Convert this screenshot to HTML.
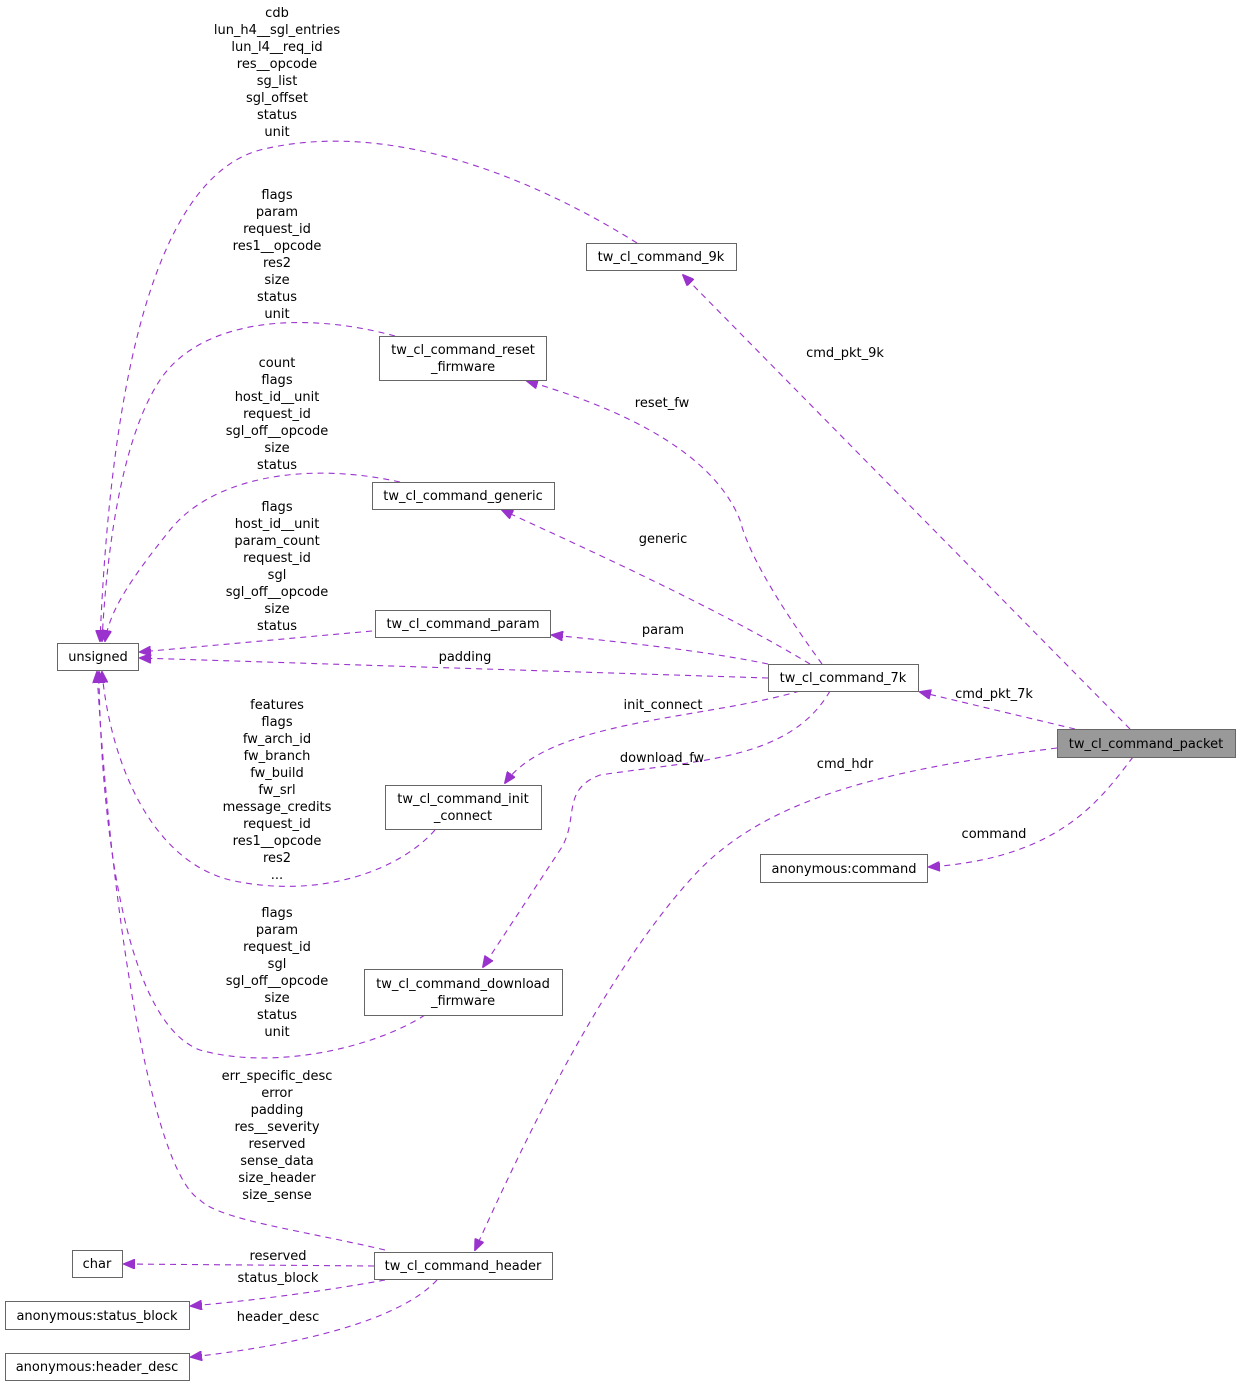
<!DOCTYPE html>
<html><head><meta charset="utf-8"><style>
html,body{margin:0;padding:0;background:#fff;}
svg{display:block;}
text{font-family:"DejaVu Sans","Liberation Sans",sans-serif;font-size:13px;fill:#000;}
.b{fill:#fff;stroke:#666;stroke-width:1;}
.e{fill:none;stroke:#9a32cd;stroke-width:1.1;stroke-dasharray:6,5;}
</style></head><body>
<svg width="1240" height="1387" viewBox="0 0 1240 1387" xmlns="http://www.w3.org/2000/svg">
<defs><marker id="a" markerWidth="12" markerHeight="10" refX="11" refY="5" orient="auto" markerUnits="userSpaceOnUse"><path d="M0,0 L12,5 L0,10 z" fill="#9a32cd" stroke="#9a32cd"/></marker></defs>
<g>
<path class="e" marker-end="url(#a)" d="M1130,729 L860,455 L683,275"/>
<path class="e" marker-end="url(#a)" d="M1075,729 L920,692"/>
<path class="e" marker-end="url(#a)" d="M1133,757 C1100,800 1060,858 929,867"/>
<path class="e" marker-end="url(#a)" d="M1057,748 C880,770 760,800 690,880 C600,980 520,1150 475,1250"/>
<path class="e" marker-end="url(#a)" d="M822,664 C790,620 750,560 740,520 C720,470 660,420 527,381"/>
<path class="e" marker-end="url(#a)" d="M810,664 C720,610 600,555 502,510"/>
<path class="e" marker-end="url(#a)" d="M768,664 C700,650 620,642 552,635"/>
<path class="e" marker-end="url(#a)" d="M768,678 L140,658"/>
<path class="e" marker-end="url(#a)" d="M800,691 C700,720 550,720 505,783"/>
<path class="e" marker-end="url(#a)" d="M830,691 C790,760 700,760 600,775 C560,790 580,820 560,850 L483,967"/>
<path class="e" marker-end="url(#a)" d="M637,243 C520,170 380,120 260,150 C150,180 110,400 100,641"/>
<path class="e" marker-end="url(#a)" d="M395,336 C300,310 200,320 160,380 C120,440 106,560 102,641"/>
<path class="e" marker-end="url(#a)" d="M400,482 C300,460 210,480 170,530 C130,580 110,610 105,641"/>
<path class="e" marker-end="url(#a)" d="M372,631 L140,652"/>
<path class="e" marker-end="url(#a)" d="M435,830 C400,870 320,900 230,880 C150,860 110,760 102,672"/>
<path class="e" marker-end="url(#a)" d="M425,1015 C370,1050 270,1070 200,1050 C120,1020 100,800 99,672"/>
<path class="e" marker-end="url(#a)" d="M385,1250 C300,1230 220,1220 200,1200 C150,1170 110,900 97,672"/>
<path class="e" marker-end="url(#a)" d="M374,1266 L124,1264"/>
<path class="e" marker-end="url(#a)" d="M385,1280 C330,1290 260,1300 191,1306"/>
<path class="e" marker-end="url(#a)" d="M437,1280 C400,1320 300,1345 191,1357"/>
</g>
<g>
<rect x="1057.5" y="729.5" width="178" height="28" fill="#999" stroke="#666"/><text x="1146" y="748" text-anchor="middle">tw_cl_command_packet</text>
<rect class="b" x="768.5" y="664.5" width="150" height="27"/><text x="843" y="682" text-anchor="middle">tw_cl_command_7k</text>
<rect class="b" x="586.5" y="243.5" width="150" height="27"/><text x="661" y="261" text-anchor="middle">tw_cl_command_9k</text>
<rect class="b" x="379.5" y="336.5" width="167" height="44"/><text x="463" y="354" text-anchor="middle">tw_cl_command_reset</text><text x="463" y="371" text-anchor="middle">_firmware</text>
<rect class="b" x="372.5" y="482.5" width="182" height="27"/><text x="463" y="500" text-anchor="middle">tw_cl_command_generic</text>
<rect class="b" x="375.5" y="610.5" width="175" height="27"/><text x="463" y="628" text-anchor="middle">tw_cl_command_param</text>
<rect class="b" x="57.5" y="643.5" width="81" height="27"/><text x="98" y="661" text-anchor="middle">unsigned</text>
<rect class="b" x="385.5" y="785.5" width="156" height="44"/><text x="463" y="803" text-anchor="middle">tw_cl_command_init</text><text x="463" y="820" text-anchor="middle">_connect</text>
<rect class="b" x="364.5" y="969.5" width="198" height="46"/><text x="463" y="988" text-anchor="middle">tw_cl_command_download</text><text x="463" y="1005" text-anchor="middle">_firmware</text>
<rect class="b" x="374.5" y="1252.5" width="178" height="27"/><text x="463" y="1270" text-anchor="middle">tw_cl_command_header</text>
<rect class="b" x="72.5" y="1250.5" width="50" height="27"/><text x="97" y="1268" text-anchor="middle">char</text>
<rect class="b" x="5.5" y="1301.5" width="184" height="28"/><text x="97" y="1320" text-anchor="middle">anonymous:status_block</text>
<rect class="b" x="5.5" y="1353.5" width="184" height="27"/><text x="97" y="1371" text-anchor="middle">anonymous:header_desc</text>
<rect class="b" x="760.5" y="854.5" width="167" height="28"/><text x="844" y="873" text-anchor="middle">anonymous:command</text>
</g>
<g text-anchor="middle">
<text x="845" y="357">cmd_pkt_9k</text>
<text x="994" y="698">cmd_pkt_7k</text>
<text x="845" y="768">cmd_hdr</text>
<text x="994" y="838">command</text>
<text x="662" y="407">reset_fw</text>
<text x="663" y="543">generic</text>
<text x="663" y="634">param</text>
<text x="465" y="661">padding</text>
<text x="663" y="709">init_connect</text>
<text x="662" y="762">download_fw</text>
<text x="278" y="1260">reserved</text>
<text x="278" y="1282">status_block</text>
<text x="278" y="1321">header_desc</text>
<text x="277" y="17">cdb</text><text x="277" y="34">lun_h4__sgl_entries</text><text x="277" y="51">lun_l4__req_id</text><text x="277" y="68">res__opcode</text><text x="277" y="85">sg_list</text><text x="277" y="102">sgl_offset</text><text x="277" y="119">status</text><text x="277" y="136">unit</text>
<text x="277" y="199">flags</text><text x="277" y="216">param</text><text x="277" y="233">request_id</text><text x="277" y="250">res1__opcode</text><text x="277" y="267">res2</text><text x="277" y="284">size</text><text x="277" y="301">status</text><text x="277" y="318">unit</text>
<text x="277" y="367">count</text><text x="277" y="384">flags</text><text x="277" y="401">host_id__unit</text><text x="277" y="418">request_id</text><text x="277" y="435">sgl_off__opcode</text><text x="277" y="452">size</text><text x="277" y="469">status</text>
<text x="277" y="511">flags</text><text x="277" y="528">host_id__unit</text><text x="277" y="545">param_count</text><text x="277" y="562">request_id</text><text x="277" y="579">sgl</text><text x="277" y="596">sgl_off__opcode</text><text x="277" y="613">size</text><text x="277" y="630">status</text>
<text x="277" y="709">features</text><text x="277" y="726">flags</text><text x="277" y="743">fw_arch_id</text><text x="277" y="760">fw_branch</text><text x="277" y="777">fw_build</text><text x="277" y="794">fw_srl</text><text x="277" y="811">message_credits</text><text x="277" y="828">request_id</text><text x="277" y="845">res1__opcode</text><text x="277" y="862">res2</text><text x="277" y="879">...</text>
<text x="277" y="917">flags</text><text x="277" y="934">param</text><text x="277" y="951">request_id</text><text x="277" y="968">sgl</text><text x="277" y="985">sgl_off__opcode</text><text x="277" y="1002">size</text><text x="277" y="1019">status</text><text x="277" y="1036">unit</text>
<text x="277" y="1080">err_specific_desc</text><text x="277" y="1097">error</text><text x="277" y="1114">padding</text><text x="277" y="1131">res__severity</text><text x="277" y="1148">reserved</text><text x="277" y="1165">sense_data</text><text x="277" y="1182">size_header</text><text x="277" y="1199">size_sense</text>
</g>
</svg>
</body></html>
